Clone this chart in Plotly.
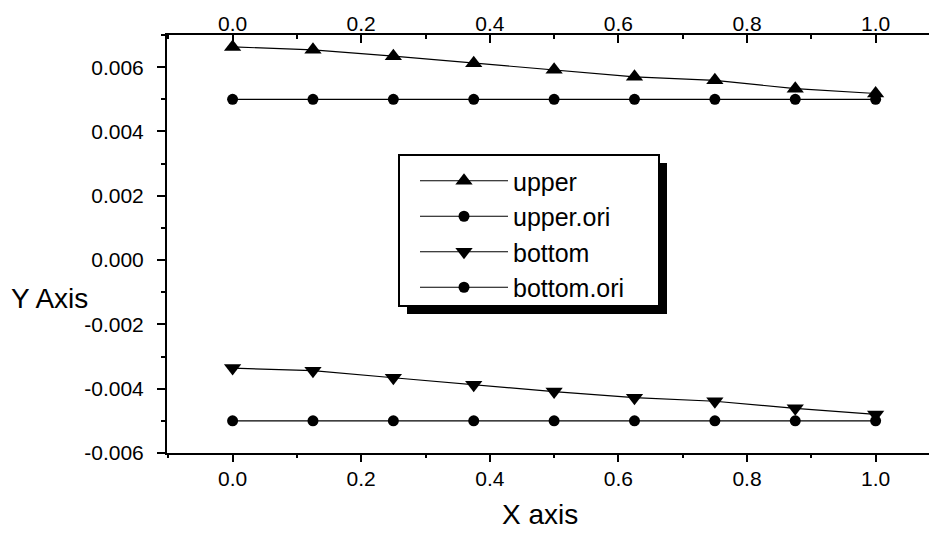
import plotly.graph_objects as go

# Sample positions along the profile
x_pos = [0.0, 0.125, 0.25, 0.375, 0.5, 0.625, 0.75, 0.875, 1.0]

# Displacement values for each series
upper = [0.00663, 0.00654, 0.00634, 0.00612, 0.00592, 0.00570, 0.00559, 0.00533, 0.00518]
upper_ori = [0.005, 0.005, 0.005, 0.005, 0.005, 0.005, 0.005, 0.005, 0.005]
bottom = [-0.00336, -0.00344, -0.00366, -0.00388, -0.00409, -0.00428, -0.00439, -0.00461, -0.00480]
bottom_ori = [-0.005, -0.005, -0.005, -0.005, -0.005, -0.005, -0.005, -0.005, -0.005]

# Y tick values and labels (plain hyphen minus)
y_ticks = [-0.006, -0.004, -0.002, 0.0, 0.002, 0.004, 0.006]
y_tick_labels = ["-0.006", "-0.004", "-0.002", "0.000", "0.002", "0.004", "0.006"]

FONT = "Liberation Sans, Arial, sans-serif"
BLACK = "#000000"

series = [
    ("upper", upper, "triangle-up", 15),
    ("upper.ori", upper_ori, "circle", 11),
    ("bottom", bottom, "triangle-down", 15),
    ("bottom.ori", bottom_ori, "circle", 11),
]

fig = go.Figure()
for name, vals, sym, size in series:
    fig.add_trace(go.Scatter(
        x=x_pos, y=vals, name=name, mode="lines+markers",
        line=dict(color=BLACK, width=1.2),
        marker=dict(symbol=sym, size=size, color=BLACK),
    ))

# transparent copies bound to the extra x axes so those axes get drawn
for xa in ("x2", "x3", "x4"):
    fig.add_trace(go.Scatter(
        x=x_pos, y=upper, xaxis=xa, yaxis="y", mode="lines",
        line=dict(color="rgba(0,0,0,0)"), showlegend=False, hoverinfo="skip",
    ))

x_range = [-0.102, 1.083]


def px_x(p):
    return (p - 167) / 762


def px_y(p):
    return (453 - p) / 418


tick_style = dict(tickwidth=2, tickcolor=BLACK)

fig.update_layout(
    width=929, height=533,
    margin=dict(l=167, r=0, t=35, b=80),
    paper_bgcolor="white", plot_bgcolor="white",
    font=dict(family=FONT, color=BLACK, size=21),
    showlegend=True,
    legend=dict(
        x=px_x(415), y=px_y(158), xanchor="left", yanchor="top",
        bgcolor="rgba(0,0,0,0)", borderwidth=0,
        font=dict(family=FONT, size=25, color=BLACK),
        itemwidth=88,
    ),
    # bottom axis: line and labels only
    xaxis=dict(
        range=x_range, tick0=0, dtick=0.2, tickformat=".1f",
        ticks="", showline=True, linecolor=BLACK, linewidth=2,
        showgrid=False, zeroline=False,
        tickfont=dict(size=21), ticklabelstandoff=6,
    ),
    # bottom axis tick marks
    xaxis3=dict(
        overlaying="x", side="bottom", anchor="y",
        range=x_range, tick0=0, dtick=0.2, showticklabels=False,
        ticks="outside", ticklen=8, **tick_style,
        minor=dict(dtick=0.1, tick0=0, ticks="outside", ticklen=4, **tick_style),
        showline=False, showgrid=False, zeroline=False,
    ),
    # top axis: border line and inward tick marks
    xaxis2=dict(
        overlaying="x", side="top", anchor="y",
        range=x_range, tick0=0, dtick=0.2, showticklabels=False,
        ticks="inside", ticklen=8, **tick_style,
        minor=dict(dtick=0.1, tick0=0, ticks="inside", ticklen=4, **tick_style),
        showline=True, linecolor=BLACK, linewidth=2,
        showgrid=False, zeroline=False,
    ),
    # top axis labels
    xaxis4=dict(
        overlaying="x", side="top", anchor="free", position=1,
        range=x_range, tick0=0, dtick=0.2, tickformat=".1f",
        ticks="", showline=False, showgrid=False, zeroline=False,
        tickfont=dict(size=21),
    ),
    yaxis=dict(
        range=[-0.006, 0.007], tickvals=y_ticks, ticktext=y_tick_labels,
        ticks="outside", ticklen=8, **tick_style,
        minor=dict(dtick=0.001, tick0=0, ticks="outside", ticklen=4, **tick_style),
        showline=True, linecolor=BLACK, linewidth=2,
        showgrid=False, zeroline=False,
        tickfont=dict(size=21), ticklabelstandoff=9,
    ),
    shapes=[
        # drop shadow of the legend box
        dict(type="rect", xref="paper", yref="paper",
             x0=px_x(407), x1=px_x(667), y0=px_y(314), y1=px_y(163),
             fillcolor=BLACK, line=dict(width=0), layer="above"),
        # legend box
        dict(type="rect", xref="paper", yref="paper",
             x0=px_x(399), x1=px_x(659), y0=px_y(306), y1=px_y(155),
             fillcolor="white", line=dict(color=BLACK, width=2), layer="above"),
    ],
    annotations=[
        dict(text="X axis", xref="paper", yref="paper", x=0.49, y=-0.105,
             xanchor="center", yanchor="top", showarrow=False,
             font=dict(family=FONT, size=28, color=BLACK)),
        dict(text="Y Axis", xref="paper", yref="paper", x=-0.207, y=0.37,
             xanchor="left", yanchor="middle", showarrow=False,
             font=dict(family=FONT, size=28, color=BLACK)),
    ],
)

fig.write_html("out.html")
